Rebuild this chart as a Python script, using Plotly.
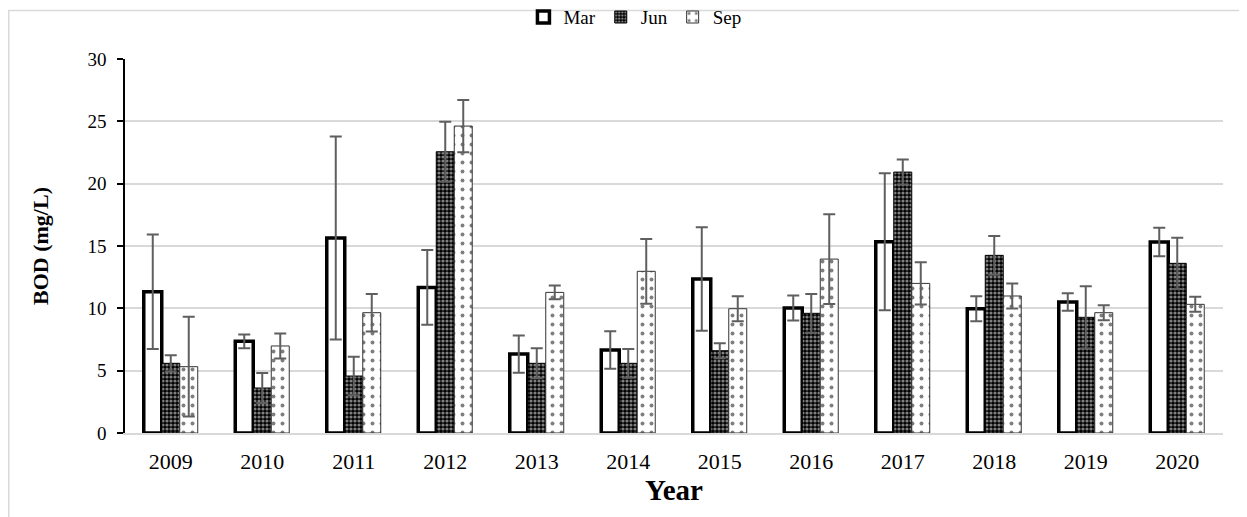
import plotly.graph_objects as go

years = ["2009", "2010", "2011", "2012", "2013", "2014", "2015", "2016", "2017", "2018", "2019", "2020"]
mar = [11.33, 7.35, 15.64, 11.68, 6.33, 6.66, 12.35, 10.02, 15.34, 9.97, 10.50, 15.32]
mar_err = [4.6, 0.55, 8.15, 3.0, 1.5, 1.5, 4.15, 1.0, 5.5, 1.0, 0.7, 1.15]
jun = [5.59, 3.61, 4.57, 22.56, 5.59, 5.59, 6.60, 9.60, 20.93, 14.25, 9.28, 13.61]
jun_err = [0.65, 1.2, 1.55, 2.4, 1.2, 1.15, 0.6, 1.55, 1.0, 1.55, 2.5, 2.05]
sep = [5.32, 6.98, 9.65, 24.62, 11.28, 12.97, 9.97, 13.95, 12.00, 10.99, 9.65, 10.32]
sep_err = [4.0, 1.0, 1.5, 2.1, 0.55, 2.6, 1.0, 3.6, 1.7, 1.0, 0.6, 0.6]

FONT = "Liberation Serif"
ERR_COLOR = "#5f5f5f"

fig = go.Figure()

fig.add_trace(go.Bar(
    name="Mar", x=years, y=mar,
    marker=dict(color="white", line=dict(color="black", width=3.5)),
    error_y=dict(type="data", array=mar_err, color=ERR_COLOR, thickness=2, width=6),
))
fig.add_trace(go.Bar(
    name="Jun", x=years, y=jun,
    marker=dict(color="black", line=dict(color="black", width=1),
                pattern=dict(shape=".", bgcolor="black", fgcolor="white", size=4, solidity=0.5)),
    error_y=dict(type="data", array=jun_err, color=ERR_COLOR, thickness=2, width=6),
))
fig.add_trace(go.Bar(
    name="Sep", x=years, y=sep,
    marker=dict(color="white", line=dict(color="#333333", width=1),
                pattern=dict(shape=".", bgcolor="white", fgcolor="black", size=9, solidity=0.15)),
    error_y=dict(type="data", array=sep_err, color=ERR_COLOR, thickness=2, width=6),
))

fig.update_layout(
    width=1239, height=509,
    margin=dict(l=117, r=24, t=51, b=84, autoexpand=False),
    paper_bgcolor="white", plot_bgcolor="white",
    barmode="group", bargap=0.41, bargroupgap=0,
    font=dict(family=FONT, color="black", size=19),
    showlegend=True,
    legend=dict(orientation="h", xref="container", yref="container",
                x=0.506, xanchor="center", y=0.982, yanchor="middle",
                font=dict(family=FONT, size=19), itemwidth=30, tracegroupgap=0,
                bgcolor="rgba(0,0,0,0)"),
    xaxis=dict(
        automargin=False,
        showgrid=False, showline=True, linecolor="#d9d9d9", linewidth=1.5,
        ticks="", tickfont=dict(family=FONT, size=22), ticklabelstandoff=8,
        title=dict(text="<b>Year</b>", font=dict(family=FONT, size=29), standoff=6),
    ),
    yaxis=dict(
        automargin=False,
        range=[0, 30], tickvals=[0, 5, 10, 15, 20, 25, 30],
        showgrid=True, gridcolor="#d9d9d9", gridwidth=1.5,
        showline=True, linecolor="black", linewidth=1.5,
        ticks="outside", ticklen=6, tickcolor="black", tickwidth=1.5,
        tickfont=dict(family=FONT, size=19), ticklabelstandoff=7,
        zeroline=False,
        title=dict(text="<b>BOD (mg/L)</b>", font=dict(family=FONT, size=22), standoff=33),
    ),
    shapes=[dict(type="rect", xref="paper", yref="paper",
                 x0=-0.1059, x1=1.1, y0=-0.4, y1=1.13,
                 line=dict(color="#d9d9d9", width=1.5), fillcolor="rgba(0,0,0,0)", layer="below")],
)

fig.write_html("out.html")
